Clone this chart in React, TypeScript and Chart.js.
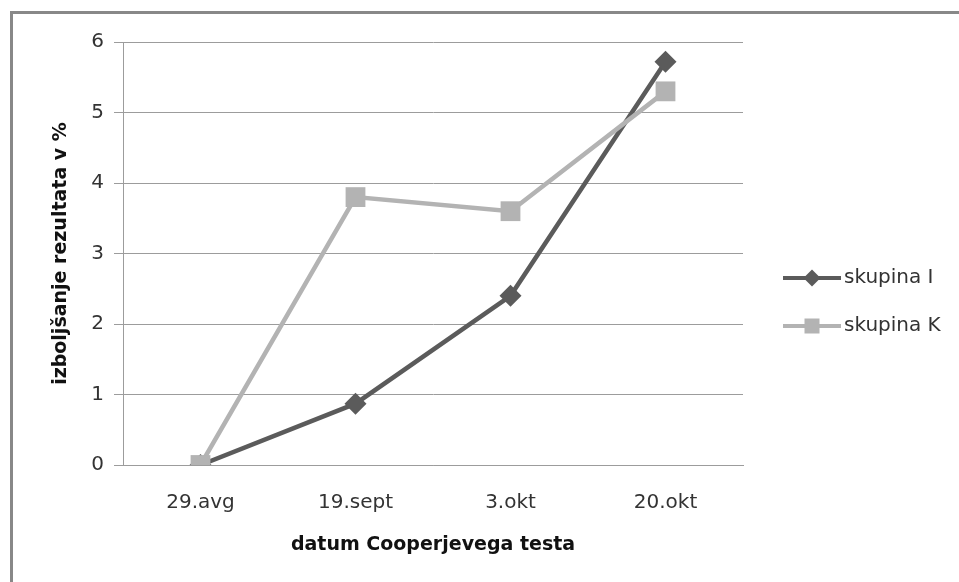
import React, { useEffect, useRef } from "react";
import { Chart, registerables } from "chart.js";

Chart.register(...registerables);

const categories = ["29.avg", "19.sept", "3.okt", "20.okt"];
const skupinaI = [0, 0.87, 2.4, 5.72];
const skupinaK = [0, 3.8, 3.6, 5.3];
const seriesNames = ["skupina I", "skupina K"];
const yMin = 0;
const yMax = 6;
const yStep = 1;
const xTitle = "datum Cooperjevega testa";
const yTitle = "izboljšanje rezultata v %";

const DARK = "#5b5b5b";
const LIGHT = "#b3b3b3";
const GRID = "#9c9c9c";
const TEXT = "#333333";
const TITLE = "#111111";
const FONT = "'DejaVu Sans', 'Liberation Sans', sans-serif";

const sideLegend = {
  id: "sideLegend",
  afterDraw(chart: any) {
    const ctx = chart.ctx as CanvasRenderingContext2D;
    const x0 = 783;
    const x1 = 841;
    const xm = 812;
    const yStart = 278;
    const dy = 48;
    chart.data.datasets.forEach((ds: any, i: number) => {
      const y = yStart + i * dy;
      ctx.save();
      ctx.strokeStyle = ds.borderColor;
      ctx.lineWidth = 4;
      ctx.beginPath();
      ctx.moveTo(x0, y);
      ctx.lineTo(x1, y);
      ctx.stroke();
      ctx.fillStyle = ds.borderColor;
      ctx.beginPath();
      if (ds.pointStyle === "rectRot") {
        const r = 8.5;
        ctx.moveTo(xm, y - r);
        ctx.lineTo(xm + r, y);
        ctx.lineTo(xm, y + r);
        ctx.lineTo(xm - r, y);
        ctx.closePath();
      } else {
        const h = 7.5;
        ctx.rect(xm - h, y - h, 2 * h, 2 * h);
      }
      ctx.fill();
      ctx.fillStyle = TEXT;
      ctx.font = `20px ${FONT}`;
      ctx.textAlign = "left";
      ctx.textBaseline = "middle";
      ctx.fillText(ds.label, 844, y);
      ctx.restore();
    });
  },
};

export default function App() {
  const canvasRef = useRef<HTMLCanvasElement | null>(null);

  useEffect(() => {
    if (!canvasRef.current) return;
    const chart = new Chart(canvasRef.current, {
      type: "line",
      data: {
        labels: categories,
        datasets: [
          {
            label: seriesNames[0],
            data: skupinaI,
            borderColor: DARK,
            backgroundColor: DARK,
            borderWidth: 4.5,
            pointStyle: "rectRot",
            pointRadius: 11,
            pointBorderWidth: 0,
            pointBackgroundColor: DARK,
            tension: 0,
            order: 1,
          },
          {
            label: seriesNames[1],
            data: skupinaK,
            borderColor: LIGHT,
            backgroundColor: LIGHT,
            borderWidth: 4.5,
            pointStyle: "rect",
            pointRadius: 14,
            pointBorderWidth: 0,
            pointBackgroundColor: LIGHT,
            tension: 0,
            order: 0,
          },
        ],
      },
      options: {
        animation: false,
        responsive: false,
        maintainAspectRatio: false,
        layout: { padding: { left: 0, top: 42, right: 216, bottom: 0 } },
        plugins: {
          legend: { display: false },
          tooltip: { enabled: false },
        },
        scales: {
          x: {
            offset: true,
            grid: { display: false },
            border: { display: true, color: GRID, width: 1 },
            ticks: {
              color: TEXT,
              font: { family: FONT, size: 20 },
              padding: 18,
              maxRotation: 0,
            },
            title: {
              display: true,
              text: xTitle,
              color: TITLE,
              font: { family: FONT, size: 19, weight: "bold" },
              padding: { top: 0, bottom: 26 },
            },
            afterFit: (s: any) => {
              s.height = 117;
            },
          },
          y: {
            min: yMin,
            max: yMax,
            ticks: {
              stepSize: yStep,
              color: TEXT,
              font: { family: FONT, size: 20 },
              padding: 10,
            },
            grid: { color: GRID, lineWidth: 1, tickLength: 9, drawTicks: true },
            border: { display: true, color: GRID, width: 1 },
            title: {
              display: true,
              text: yTitle,
              color: TITLE,
              font: { family: FONT, size: 19, weight: "bold" },
              padding: { top: 50, bottom: 0 },
            },
            afterFit: (s: any) => {
              s.width = 123;
            },
          },
        },
      },
      plugins: [sideLegend],
    });
    return () => chart.destroy();
  }, []);

  return (
    <div
      style={{
        position: "fixed",
        left: 0,
        top: 0,
        width: 959,
        height: 582,
        overflow: "hidden",
        background: "#ffffff",
      }}
    >
      <div
        style={{
          position: "absolute",
          left: 10,
          top: 11,
          width: 2000,
          height: 2000,
          border: "3px solid #888888",
          boxSizing: "border-box",
        }}
      />
      <canvas
        ref={canvasRef}
        width={959}
        height={582}
        style={{ position: "absolute", left: 0, top: 0, width: 959, height: 582 }}
      />
    </div>
  );
}
